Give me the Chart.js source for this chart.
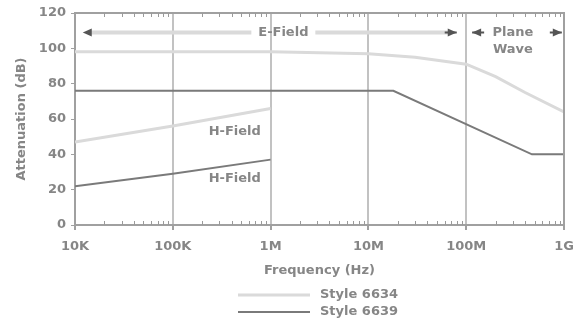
<!DOCTYPE html>
<html>
<head>
<meta charset="utf-8">
<script src="https://cdn.jsdelivr.net/npm/chart.js@4.4.0/dist/chart.umd.min.js"></script>
<style>
  html, body { margin: 0; background: #fff; }
  #wrap { width: 576px; height: 322px; }
</style>
</head>
<body>
<div id="wrap"><canvas id="c"></canvas></div>
<script>
// axis ticks
const tickFreqs = [1e4, 1e5, 1e6, 1e7, 1e8, 1e9];
const tickLabels = ['10K', '100K', '1M', '10M', '100M', '1G'];

// styles (legend)
const styles = ['Style 6634', 'Style 6639'];

// H-field curves
const hFreqs = [1e4, 1e5, 1e6];
const h6634 = [47, 56, 66];
const h6639 = [22, 29, 37];

// E-field / plane wave curves
const e6634Freqs = [1e4, 1e5, 1e6, 1e7, 3e7, 1e8, 2e8, 4e8, 1e9];
const e6634 = [98, 98, 98, 97, 95, 91, 84, 75, 64];
const e6639Freqs = [1e4, 1.8e7, 4.7e8, 1e9];
const e6639 = [76, 76, 40, 40];

const LIGHT = '#dadada';
const DARK = '#7a7a7a';
const TEXT = '#868686';
const FONT = '"DejaVu Sans", sans-serif';
const FS = 13;

const pts = (xs, ys) => xs.map((x, i) => ({ x: x, y: ys[i] }));

const lineDs = (label, data, color, width) => ({
  label: label,
  data: data,
  borderColor: color,
  borderWidth: width,
  pointRadius: 0,
  tension: 0,
  fill: false
});

// frame, minor ticks, field annotations, legend
const extras = {
  id: 'extras',
  afterDraw(chart) {
    const ctx = chart.ctx;
    const a = chart.chartArea;
    const xs = chart.scales.x, ys = chart.scales.y;
    ctx.save();

    // top + right border
    ctx.strokeStyle = '#a0a0a0';
    ctx.lineWidth = 2;
    ctx.beginPath();
    ctx.moveTo(a.left, a.top);
    ctx.lineTo(a.right, a.top);
    ctx.lineTo(a.right, a.bottom);
    ctx.stroke();

    // minor ticks, inside top and bottom
    ctx.lineWidth = 1;
    ctx.strokeStyle = '#9a9a9a';
    for (let d = 0; d < tickFreqs.length - 1; d++) {
      for (let m = 2; m <= 9; m++) {
        const px = Math.round(xs.getPixelForValue(tickFreqs[d] * m)) + 0.5;
        ctx.beginPath();
        ctx.moveTo(px, a.bottom);
        ctx.lineTo(px, a.bottom - 4);
        ctx.moveTo(px, a.top);
        ctx.lineTo(px, a.top + 4);
        ctx.stroke();
      }
    }

    ctx.font = 'bold ' + FS + 'px ' + FONT;
    ctx.fillStyle = TEXT;
    ctx.textBaseline = 'middle';
    ctx.textAlign = 'center';

    const arrow = (tipX, y, dir, color) => {
      ctx.fillStyle = color;
      ctx.beginPath();
      ctx.moveTo(tipX, y);
      ctx.lineTo(tipX - dir * 9, y - 4);
      ctx.lineTo(tipX - dir * 9, y + 4);
      ctx.closePath();
      ctx.fill();
    };

    // E-Field span
    const ay = ys.getPixelForValue(109);
    const eL = xs.getPixelForValue(1.2e4);
    const eR = xs.getPixelForValue(8e7);
    const eC = xs.getPixelForValue(1.35e6);
    ctx.strokeStyle = LIGHT;
    ctx.lineWidth = 4;
    ctx.beginPath();
    ctx.moveTo(eL + 8, ay); ctx.lineTo(eC - 32, ay);
    ctx.moveTo(eC + 32, ay); ctx.lineTo(eR - 8, ay);
    ctx.stroke();
    arrow(eL, ay, -1, '#555');
    arrow(eR, ay, 1, '#555');
    ctx.fillStyle = TEXT;
    ctx.fillText('E-Field', eC, ay);

    // Plane Wave span
    const pL = xs.getPixelForValue(1.15e8);
    const pR = xs.getPixelForValue(9.5e8);
    const pC = xs.getPixelForValue(3e8);
    ctx.strokeStyle = '#555';
    ctx.lineWidth = 2;
    ctx.beginPath();
    ctx.moveTo(pL, ay); ctx.lineTo(pL + 12, ay);
    ctx.moveTo(pR, ay); ctx.lineTo(pR - 12, ay);
    ctx.moveTo(eR, ay); ctx.lineTo(eR - 12, ay);
    ctx.stroke();
    arrow(pL, ay, -1, '#555');
    arrow(pR, ay, 1, '#555');
    ctx.fillStyle = TEXT;
    ctx.fillText('Plane', pC, ay);
    ctx.fillText('Wave', pC, ys.getPixelForValue(99.5));

    // H-Field labels
    const hx = xs.getPixelForValue(4.3e5);
    ctx.fillText('H-Field', hx, ys.getPixelForValue(53));
    ctx.fillText('H-Field', hx, ys.getPixelForValue(26));

    // legend
    const colors = [LIGHT, DARK];
    const widths = [3, 2];
    styles.forEach((s, i) => {
      const y = 295 + i * 17;
      ctx.strokeStyle = colors[i];
      ctx.lineWidth = widths[i];
      ctx.beginPath();
      ctx.moveTo(238, y); ctx.lineTo(310, y);
      ctx.stroke();
      ctx.fillStyle = TEXT;
      ctx.textAlign = 'left';
      ctx.fillText(s, 320, y);
    });
    ctx.restore();
  }
};

new Chart(document.getElementById('c'), {
  type: 'line',
  data: {
    datasets: [
      lineDs(styles[0], pts(e6634Freqs, e6634), LIGHT, 3),
      lineDs(styles[0], pts(hFreqs, h6634), LIGHT, 3),
      lineDs(styles[1], pts(e6639Freqs, e6639), DARK, 2),
      lineDs(styles[1], pts(hFreqs, h6639), DARK, 2)
    ]
  },
  options: {
    responsive: true,
    maintainAspectRatio: false,
    animation: false,
    layout: { padding: { top: 13, right: 12, bottom: 44, left: 14 } },
    plugins: { legend: { display: false }, tooltip: { enabled: false } },
    scales: {
      x: {
        type: 'logarithmic',
        min: 1e4,
        max: 1e9,
        afterBuildTicks: (s) => { s.ticks = tickFreqs.map(v => ({ value: v })); },
        afterFit: (s) => { s.height = 53; s.paddingLeft = 0; s.paddingRight = 0; },
        ticks: {
          color: TEXT,
          font: { family: FONT, size: FS, weight: 'bold' },
          maxRotation: 0,
          padding: 9,
          callback: (v) => tickLabels[tickFreqs.indexOf(v)]
        },
        grid: {
          color: (c) => (c.index === 0 || c.index === tickFreqs.length - 1) ? 'rgba(0,0,0,0)' : '#c2c2c2',
          lineWidth: 2,
          tickLength: 5,
          tickColor: '#a0a0a0'
        },
        border: { color: '#a0a0a0', width: 2 },
        title: {
          display: true,
          text: 'Frequency (Hz)',
          color: TEXT,
          font: { family: FONT, size: FS, weight: 'bold' },
          padding: { top: 2, bottom: 0 }
        }
      },
      y: {
        min: 0,
        max: 120,
        afterFit: (s) => { s.width = 61; },
        ticks: {
          stepSize: 20,
          color: TEXT,
          font: { family: FONT, size: FS, weight: 'bold' },
          padding: 5
        },
        grid: {
          drawOnChartArea: false,
          tickLength: 4,
          tickColor: '#a0a0a0'
        },
        border: { color: '#a0a0a0', width: 2 },
        title: {
          display: true,
          text: 'Attenuation (dB)',
          color: TEXT,
          font: { family: FONT, size: FS, weight: 'bold' },
          padding: 0
        }
      }
    }
  },
  plugins: [extras]
});
</script>
</body>
</html>
